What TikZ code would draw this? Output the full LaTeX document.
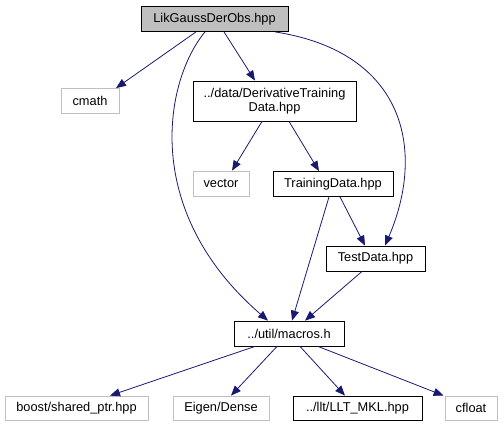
\documentclass[tikz,border=0pt]{standalone}
\usepackage{fontspec}
\setmainfont{Liberation Sans}
\usetikzlibrary{arrows.meta}
\definecolor{EDGE}{HTML}{191970}
\definecolor{GRAYLINE}{HTML}{BFBFBF}
\definecolor{TOPFILL}{HTML}{BFBFBF}
\begin{document}
\begin{tikzpicture}[x=1bp,y=-1bp]
\tikzset{file/.style={draw=black,thick,inner sep=0pt,minimum height=25bp,font=\fontsize{12.8bp}{14.5bp}\selectfont,align=center},
 sysfile/.style={file,draw=GRAYLINE},
 topfile/.style={file,fill=TOPFILL},
 dep/.style={EDGE,line width=0.8pt,-{Triangle[length=10bp,width=8bp]}}}
\useasboundingbox (0,0) rectangle (504,427);
% nodes
\node[topfile,minimum width=147bp] (lik) at (214.5,19) {LikGaussDerObs.hpp};
\node[sysfile,minimum width=58bp] (cmath) at (90,101) {cmath};
\node[file,minimum width=163bp,minimum height=40bp] (deriv) at (274.5,101) {../data/DerivativeTraining\\Data.hpp};
\node[sysfile,minimum width=56bp] (vector) at (221,183.5) {vector};
\node[file,minimum width=120bp] (train) at (333,184) {TrainingData.hpp};
\node[file,minimum width=99bp] (test) at (375.5,258.5) {TestData.hpp};
\node[file,minimum width=110bp] (macros) at (289,333.5) {../util/macros.h};
\node[sysfile,minimum width=143bp,minimum height=24bp] (boost) at (76.5,408) {boost/shared\_ptr.hpp};
\node[sysfile,minimum width=96bp,minimum height=24bp] (eigen) at (221,408) {Eigen/Dense};
\node[file,minimum width=129bp,minimum height=24bp] (llt) at (357.5,408) {../llt/LLT\_MKL.hpp};
\node[sysfile,minimum width=52bp,minimum height=24bp] (cfloat) at (471,408) {cfloat};
% edges
\draw[dep] ([xshift=-18.5bp]lik.south) -- ([xshift=26bp]cmath.north);
\draw[dep] ([xshift=9.5bp]lik.south) -- ([xshift=-19.5bp]deriv.north);
\draw[dep] ([xshift=-9.5bp]lik.south) .. controls (165,80) and (140,210) .. ([xshift=-21bp]macros.north);
\draw[dep] ([xshift=60.5bp]lik.south) .. controls (405,52) and (426,150) .. ([xshift=9.5bp]test.north);
\draw[dep] ([xshift=-12.5bp]deriv.south) -- ([xshift=11bp]vector.north);
\draw[dep] ([xshift=14.5bp]deriv.south) -- ([xshift=-14bp]train.north);
\draw[dep] ([xshift=7bp]train.south) -- ([xshift=-10.5bp]test.north);
\draw[dep] ([xshift=-4bp]train.south) -- ([xshift=3bp]macros.north);
\draw[dep] ([xshift=-13.5bp]test.south) -- ([xshift=16bp]macros.north);
\draw[dep] ([xshift=-34bp]macros.south) -- ([xshift=33.5bp]boost.north);
\draw[dep] ([xshift=-12bp]macros.south) -- ([xshift=10bp]eigen.north);
\draw[dep] ([xshift=11bp]macros.south) -- ([xshift=-12.5bp]llt.north);
\draw[dep] ([xshift=29bp]macros.south) -- ([xshift=-1bp]cfloat.north west);
\end{tikzpicture}
\end{document}
